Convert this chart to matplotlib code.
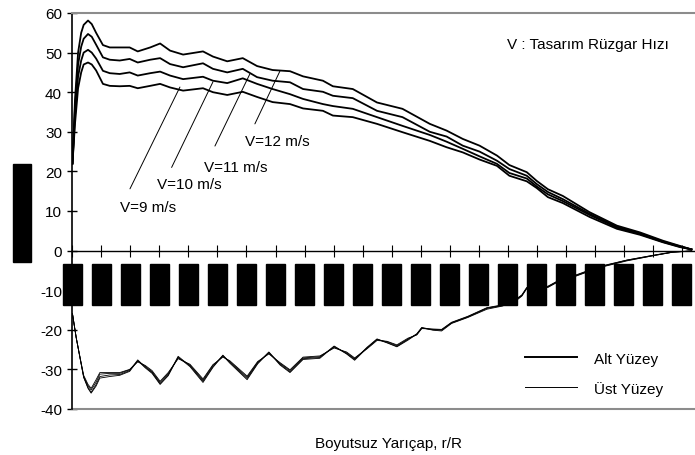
import numpy as np
import matplotlib
matplotlib.use("Agg")
import matplotlib.pyplot as plt

plt.rcParams['font.family'] = ['Liberation Sans', 'DejaVu Sans']
plt.rcParams['font.size'] = 11
plt.rcParams['axes.unicode_minus'] = False

# Alt yuzey (upper group of curves), r/R positions
r_alt = [0, 0.004, 0.009, 0.014, 0.018, 0.025, 0.031, 0.038, 0.049, 0.060,
         0.076, 0.092, 0.105, 0.125, 0.141, 0.157, 0.178, 0.194, 0.210, 0.226,
         0.249, 0.274, 0.297, 0.322, 0.350, 0.371, 0.403, 0.419, 0.451, 0.490,
         0.531, 0.575, 0.602, 0.628, 0.655, 0.683, 0.703, 0.731, 0.747, 0.765,
         0.789, 0.832, 0.876, 0.913, 0.950, 0.977, 0.996]

alt_v12 = [22, 38, 50, 55, 57, 58.1, 57.2, 55, 51.9, 51.3,
           51.3, 51.3, 50.3, 51.3, 52.3, 50.5, 49.5, 49.9, 50.3, 49,
           47.8, 48.6, 46.6, 45.6, 45.3, 44, 42.9, 41.5, 40.8, 37.4,
           35.8, 32, 30.3, 28.2, 26.5, 24, 21.6, 19.8, 17.6, 15.5,
           13.8, 9.7, 6.3, 4.6, 2.5, 1.2, 0.3]
alt_v11 = [22, 36, 47, 51.5, 53.5, 54.7, 54, 52, 48.8, 48.2,
           48.0, 48.4, 47.5, 48.2, 48.6, 47.1, 46.3, 46.8, 47.3, 45.9,
           45, 45.9, 43.8, 42.9, 42.5, 40.8, 40.1, 39.1, 38.5, 35.3,
           33.7, 30, 28.8, 26.5, 25, 22.7, 20.6, 18.9, 16.8, 14.8,
           13.0, 9.3, 6.0, 4.4, 2.3, 1.1, 0.3]
alt_v10 = [22, 34, 44, 48, 50, 50.7, 50, 48.5, 45.4, 44.8,
           44.6, 45, 44.2, 44.8, 45.2, 44.2, 43.3, 43.6, 43.9, 42.9,
           42.3, 43.5, 42.1, 40.8, 39.5, 38.3, 37, 36.5, 35.8, 33.7,
           31.5, 29.2, 27.5, 25.7, 23.8, 21.9, 19.6, 18.2, 16.2, 14.2,
           12.5, 9.0, 5.8, 4.2, 2.2, 1.0, 0.3]
alt_v9 = [22, 32, 41, 45, 47, 47.5, 47, 45.5, 42.1, 41.6,
          41.5, 41.6, 41, 41.6, 42.1, 41.2, 40.4, 40.7, 41, 40,
          39.3, 40.1, 38.8, 37.5, 37, 35.9, 35.3, 34.1, 33.7, 32,
          29.9, 27.7, 26.1, 24.8, 23, 21.4, 18.9, 17.5, 15.8, 13.5,
          12.0, 8.5, 5.5, 4.0, 2.1, 0.9, 0.3]

# Ust yuzey (lower group of curves)
r_ust = [0, 0.006, 0.012, 0.018, 0.025, 0.030, 0.038, 0.044, 0.060, 0.076,
         0.092, 0.105, 0.117, 0.128, 0.141, 0.154, 0.170, 0.189, 0.210, 0.226,
         0.242, 0.253, 0.281, 0.298, 0.316, 0.334, 0.350, 0.371, 0.398, 0.421,
         0.441, 0.454, 0.474, 0.490, 0.506, 0.522, 0.540, 0.554, 0.562, 0.580,
         0.594, 0.610, 0.636, 0.667, 0.692, 0.715, 0.723, 0.731, 0.765, 0.779,
         0.811, 0.848, 0.892, 0.934, 0.966, 0.996]

ust_v12 = [-16, -22, -27, -32, -34.8, -36, -34.2, -32.2, -31.8, -31.5,
           -30.5, -27.8, -29.6, -31, -33.8, -31.6, -26.9, -29.3, -33.3, -29.5,
           -26.5, -28.4, -32.6, -28.6, -25.7, -28.9, -30.8, -27.5, -27.2, -24.2,
           -26.1, -27.7, -24.6, -22.4, -23.3, -24.3, -22.6, -21.1, -19.5, -20.1,
           -20.3, -18.4, -16.9, -14.8, -14.0, -12.5, -11.5, -9.6, -9.3, -8.1,
           -6.4, -4.3, -2.6, -1.3, -0.4, -0.1]
ust_v11 = [-16, -22, -27, -32, -34.6, -35.8, -33.8, -31.8, -31.4, -31.3,
           -30.3, -27.6, -29.4, -30.8, -33.6, -31.4, -26.7, -29.1, -33.0, -29.3,
           -26.4, -28.2, -32.3, -28.4, -25.6, -28.7, -30.6, -27.3, -27.0, -24.1,
           -26.0, -27.5, -24.4, -22.3, -23.2, -24.2, -22.4, -21.0, -19.4, -20.0,
           -20.1, -18.3, -16.8, -14.6, -13.9, -12.3, -11.4, -9.5, -9.2, -8.0,
           -6.3, -4.2, -2.5, -1.3, -0.4, -0.1]
ust_v10 = [-16, -22, -27, -31.8, -34.2, -35.2, -33.2, -31.2, -31.0, -31.0,
           -30.1, -27.9, -29.2, -30.6, -33.3, -31.1, -27.1, -28.9, -32.7, -29.0,
           -26.7, -28.0, -32.0, -28.2, -25.9, -28.5, -30.3, -27.1, -26.8, -24.4,
           -25.8, -27.3, -24.6, -22.5, -23.0, -24.0, -22.3, -21.2, -19.6, -19.9,
           -20.0, -18.2, -16.7, -14.5, -13.8, -12.2, -11.3, -9.4, -9.1, -7.9,
           -6.2, -4.1, -2.4, -1.2, -0.4, -0.1]
ust_v9 = [-16, -22, -26.8, -31.5, -33.8, -34.8, -32.6, -30.8, -30.8, -30.8,
          -30.0, -28.1, -29.0, -30.3, -33.0, -30.8, -27.3, -28.7, -32.4, -28.8,
          -26.9, -27.8, -31.7, -28.0, -26.1, -28.3, -30.1, -26.9, -26.6, -24.6,
          -25.6, -27.1, -24.8, -22.7, -22.9, -23.8, -22.1, -21.3, -19.7, -19.8,
          -19.9, -18.1, -16.6, -14.4, -13.7, -12.1, -11.2, -9.3, -9.0, -7.8,
          -6.1, -4.0, -2.4, -1.2, -0.3, -0.1]

# speed labels: text position, leader line bottom, leader line top (on curve)
hiz_etiket = ['V=9 m/s', 'V=10 m/s', 'V=11 m/s', 'V=12 m/s']
etiket_xy = [(0.0764, 11.0), (0.136, 16.8), (0.2115, 21.1), (0.2774, 27.7)]
cizgi_alt = [(0.0925, 15.6), (0.1595, 21.0), (0.2292, 26.4), (0.2935, 32.0)]
cizgi_ust = [(0.1729, 41.3), (0.226, 42.6), (0.2854, 44.6), (0.3337, 45.3)]

tick_r = np.linspace(0, 0.98, 22)
tick_lab = ["%.3f" % t for t in tick_r]
tick_lab = [t.replace('.', ',') for t in tick_lab]

fig = plt.figure(figsize=(6.95, 4.56), dpi=100)
ax = fig.add_axes([0.1043, 0.1009, 0.8942, 0.8684])

for seri in [alt_v9, alt_v10, alt_v11, alt_v12]:
    ax.plot(r_alt, seri, color='black', lw=1.3, solid_joinstyle='round')
for seri in [ust_v9, ust_v10, ust_v11, ust_v12]:
    ax.plot(r_ust, seri, color='black', lw=0.6)

# legend handles
ax.plot([], [], color='black', lw=1.4, label='Alt Yüzey')
ax.plot([], [], color='black', lw=0.7, label='Üst Yüzey')

for lab, txy, p0, p1 in zip(hiz_etiket, etiket_xy, cizgi_alt, cizgi_ust):
    ax.text(txy[0], txy[1], lab, ha='left', va='center', fontsize=11)
    ax.annotate('', xy=p1, xytext=p0,
                arrowprops=dict(arrowstyle='-', lw=0.7, color='black',
                                shrinkA=0, shrinkB=0))

ax.text(0.699, 52.2, 'V : Tasarım Rüzgar Hızı', ha='left', va='center', fontsize=11)

ax.set_xlim(0, 1.0)
ax.set_ylim(-40, 60)
ax.set_yticks(np.arange(-40, 61, 10))

ax.spines['right'].set_visible(False)
ax.spines['top'].set_color('#8c8c8c')
ax.spines['top'].set_linewidth(1.5)
ax.spines['left'].set_linewidth(1.2)
ax.spines['bottom'].set_position(('data', 0))
ax.spines['bottom'].set_linewidth(1.0)
ax.axhline(-40, color='#8c8c8c', lw=1.5, clip_on=False)

ax.tick_params(axis='y', direction='inout', length=7, width=1, pad=4, labelsize=11)
ax.tick_params(axis='x', direction='inout', length=8, width=0.8, pad=8)
ax.set_xticks(tick_r)
ax.set_xticklabels(tick_lab, rotation=90, fontsize=10)
for t in ax.get_xticklabels():
    t.set_color('black')
    t.set_bbox(dict(facecolor='black', edgecolor='black', boxstyle='square,pad=0.2'))

ax.set_xlabel('Boyutsuz Yarıçap, r/R', fontsize=11)
ax.xaxis.set_label_coords(0.508, -0.068)
ax.set_ylabel('Basınç (N/m²)', fontsize=11)
ax.yaxis.set_label_coords(-0.081, 0.495)
ax.yaxis.label.set_va('center')
ax.yaxis.label.set_bbox(dict(facecolor='black', edgecolor='black', boxstyle='square,pad=0.15'))

ax.legend(loc='upper left', bbox_to_anchor=(0.728, 0.145), frameon=False,
          handlelength=3.4, handletextpad=1.1, labelspacing=0.98,
          borderpad=0, borderaxespad=0, fontsize=11)

fig.savefig('out.png', dpi=100)
